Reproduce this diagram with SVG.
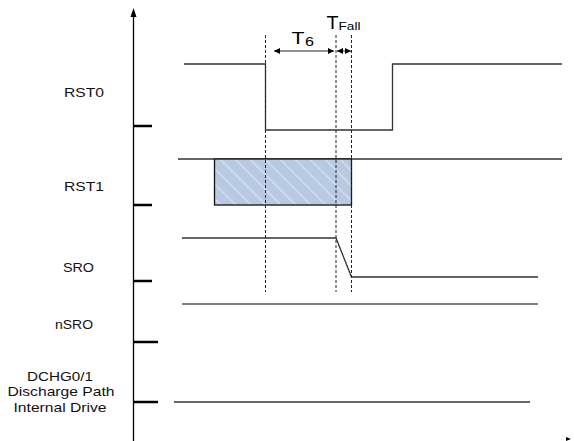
<svg xmlns="http://www.w3.org/2000/svg" width="574" height="441" viewBox="0 0 574 441">
<defs>
<style>
.lbl{font-family:"Liberation Sans",Arial,sans-serif;font-size:13.5px;fill:#111}
.sig{fill:none;stroke:#333;stroke-width:1.3}
.sig2{fill:none;stroke:#555;stroke-width:1.6}
.tick{stroke:#000;stroke-width:2.5}
.dash{stroke:#222;stroke-width:1;stroke-dasharray:3,2}
.dim{stroke:#222;stroke-width:1}
.tl{font-family:"Liberation Sans",Arial,sans-serif;fill:#000}
</style>
<pattern id="hatch" patternUnits="userSpaceOnUse" width="10.6" height="10.6" patternTransform="rotate(-45)">
<rect width="10.6" height="10.6" fill="#b8c9e2"/>
<line x1="0" y1="0" x2="0" y2="10.6" stroke="#dbe4f1" stroke-width="2.4"/>
</pattern>
<marker id="ah" viewBox="0 0 10 10" refX="10" refY="5" markerWidth="8" markerHeight="6" markerUnits="userSpaceOnUse" orient="auto-start-reverse">
<path d="M0,0 L10,5 L0,10 z" fill="#000"/>
</marker>
</defs>
<g id="axis">
<line x1="133.5" y1="14" x2="133.5" y2="441" stroke="#000" stroke-width="1.3"/>
<path d="M133.5,8 L130.5,17 L136.5,17 z" fill="#000"/>
<line class="tick" x1="133" y1="126" x2="152" y2="126"/>
<line class="tick" x1="133" y1="205" x2="152" y2="205"/>
<line class="tick" x1="133" y1="281" x2="152" y2="281"/>
<line class="tick" x1="133" y1="342" x2="158" y2="342"/>
<line class="tick" x1="133" y1="402" x2="158" y2="402"/>
<path d="M566,437 L571,439 L566,441 z" fill="#000"/>
</g>
<g id="labels">
<text class="lbl" x="84" y="97" text-anchor="middle" textLength="40" lengthAdjust="spacingAndGlyphs">RST0</text>
<text class="lbl" x="84" y="190.5" text-anchor="middle" textLength="40" lengthAdjust="spacingAndGlyphs">RST1</text>
<text class="lbl" x="78.5" y="272" text-anchor="middle" textLength="31" lengthAdjust="spacingAndGlyphs">SRO</text>
<text class="lbl" x="74" y="329" text-anchor="middle" textLength="38" lengthAdjust="spacingAndGlyphs">nSRO</text>
<text class="lbl" x="60" y="380.5" text-anchor="middle" textLength="66" lengthAdjust="spacingAndGlyphs">DCHG0/1</text>
<text class="lbl" x="61" y="396" text-anchor="middle" textLength="107" lengthAdjust="spacingAndGlyphs">Discharge Path</text>
<text class="lbl" x="60" y="411.5" text-anchor="middle" textLength="93" lengthAdjust="spacingAndGlyphs">Internal Drive</text>
</g>
<g id="RST0">
<polyline class="sig" points="184,64 265.5,64 265.5,130 392.5,130 392.5,64 562,64"/>
</g>
<g id="RST1">
<line class="sig" x1="178" y1="159" x2="562" y2="159"/>
<rect x="214.5" y="159" width="137" height="46" fill="url(#hatch)" stroke="#111" stroke-width="1.3"/>
</g>
<g id="SRO">
<polyline class="sig" points="182,238 336,238 351.5,277 538,277"/>
</g>
<g id="nSRO">
<line class="sig2" x1="182" y1="304" x2="538" y2="304"/>
</g>
<g id="DCHG">
<line class="sig" x1="174" y1="402" x2="530" y2="402"/>
</g>
<g id="connectors">
<line class="dash" x1="265.5" y1="35" x2="265.5" y2="292"/>
<line class="dash" x1="336" y1="35" x2="336" y2="292"/>
<line class="dash" x1="351.5" y1="35" x2="351.5" y2="292"/>
<line class="dim" x1="274" y1="51" x2="334" y2="51" marker-start="url(#ah)" marker-end="url(#ah)"/>
<line class="dim" x1="337" y1="51" x2="351" y2="51" marker-start="url(#ah)" marker-end="url(#ah)"/>
</g>
<g id="timing-labels">
<text class="tl" x="291.5" y="43.5" font-size="16.5" textLength="13" lengthAdjust="spacingAndGlyphs">T</text>
<text class="tl" x="305" y="46" font-size="12" textLength="9" lengthAdjust="spacingAndGlyphs">6</text>
<text class="tl" x="326.5" y="28.5" font-size="18" textLength="12" lengthAdjust="spacingAndGlyphs">T</text>
<text class="tl" x="338.5" y="30" font-size="11.5" textLength="22" lengthAdjust="spacingAndGlyphs">Fall</text>
</g>
</svg>
